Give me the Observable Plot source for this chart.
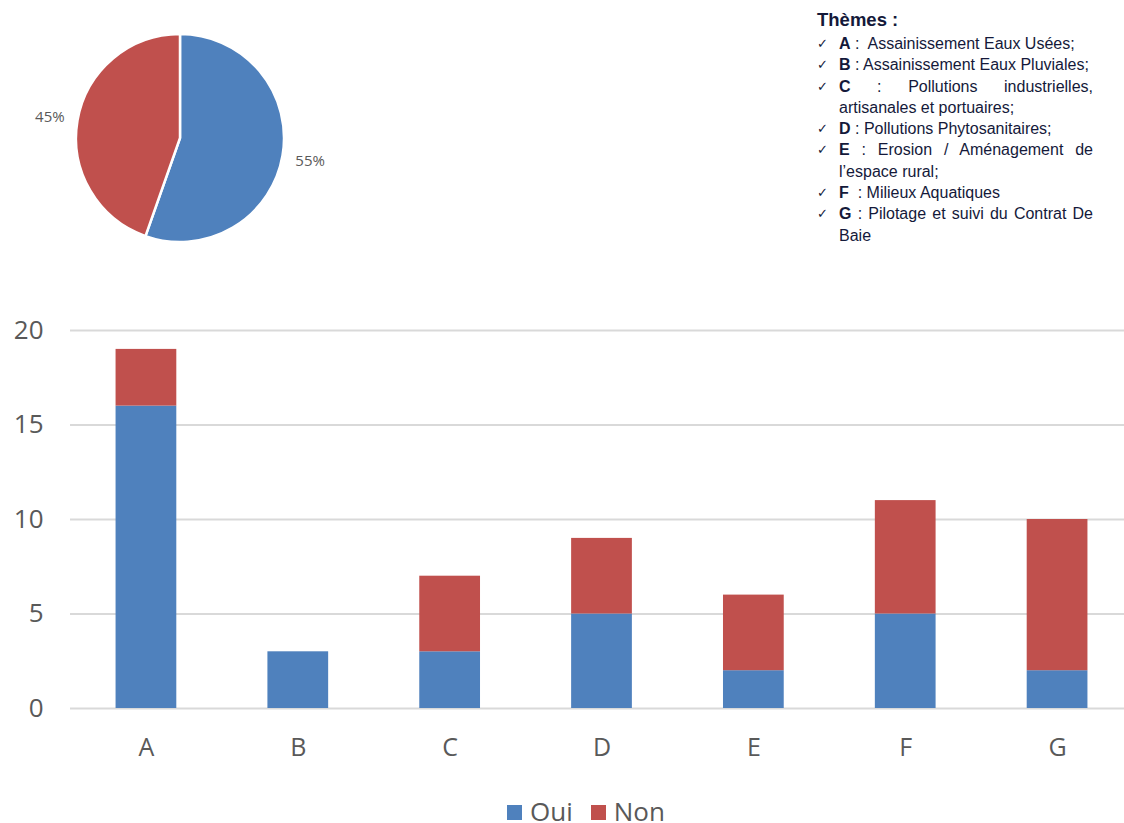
<!DOCTYPE html>
<html>
<head>
<meta charset="utf-8">
<script src="https://cdn.jsdelivr.net/npm/d3@7"></script>
<script src="https://cdn.jsdelivr.net/npm/@observablehq/plot@0.6"></script>
<style>
  html, body { margin: 0; padding: 0; background: #fff; }
  body { width: 1124px; height: 823px; position: relative; overflow: hidden; font-family: "Liberation Sans", Arial, sans-serif; }
  #pie { position: absolute; left: 0; top: 0; }
  #bars { position: absolute; left: 0; top: 310px; }
  #themes { position: absolute; left: 816px; top: 8px; width: 277px; color: #14193a; }
  #themes h3 { margin: 0 0 1px 1px; font-size: 18.5px; line-height: 24px; font-weight: bold; }
  #themes ul { list-style: none; margin: 0; padding: 0; }
  #themes li { position: relative; padding-left: 23px; font-size: 16px; line-height: 21.3px; text-align: justify; }
  #themes li::before { content: "\2713"; position: absolute; left: 1px; top: 0; font-size: 13px; font-family: "DejaVu Sans", sans-serif; }
  #legend { position: absolute; top: 799px; left: 507px; white-space: nowrap; font-size: 26px; line-height: 24px; color: #595959; font-family: "Open Sans", sans-serif; }
  #legend span.sw { display: inline-block; width: 15px; height: 15px; margin-right: 8px; vertical-align: 1px; }
  #legend span.item { margin-right: 18px; }
</style>
</head>
<body>
<div id="pie"></div>
<div id="themes"></div>
<div id="bars"></div>
<div id="legend"></div>
<script>
// ---- data ----
const categories = ["A", "B", "C", "D", "E", "F", "G"];
const series = ["Oui", "Non"];
const ouiValues = [16, 3, 3, 5, 2, 5, 2];
const nonValues = [3, 0, 4, 4, 4, 6, 8];
const seriesColors = ["#4f81bd", "#c0504d"];
const yTicks = [0, 5, 10, 15, 20];
const pieLabels = ["55%", "45%"];
const themeTitle = "Thèmes :";
const themeLetters = ["A", "B", "C", "D", "E", "F", "G"];
const themeSeparators = ["\u00a0:\u00a0 ", " : ", " : ", " : ", " : ", " \u00a0: ", " : "];
const themeTexts = [
  "Assainissement Eaux Usées;",
  "Assainissement Eaux Pluviales;",
  "Pollutions industrielles, artisanales et portuaires;",
  "Pollutions Phytosanitaires;",
  "Erosion / Aménagement de l’espace rural;",
  "Milieux Aquatiques",
  "Pilotage et suivi du Contrat De Baie"
];

// ---- long table for bars ----
const rows = [];
categories.forEach((c, i) => {
  rows.push({cat: c, serie: "Oui", value: ouiValues[i]});
  rows.push({cat: c, serie: "Non", value: nonValues[i]});
});
const pieData = series.map((s, i) => ({serie: s, value: d3.sum(i === 0 ? ouiValues : nonValues), label: pieLabels[i]}));

// ---- bar chart ----
const bars = Plot.plot({
  width: 1124,
  height: 460,
  marginTop: 20,
  marginBottom: 62,
  marginLeft: 70,
  marginRight: 0,
  style: {fontFamily: "Open Sans, sans-serif", background: "transparent"},
  x: {domain: categories, paddingInner: 0.6, paddingOuter: 0.3, range: [70, 1133], round: false, label: null},
  y: {domain: [0, 20], ticks: yTicks, label: null},
  color: {domain: series, range: seriesColors},
  marks: [
    Plot.gridY(yTicks, {stroke: "#d9d9d9", strokeOpacity: 1, strokeWidth: 2}),
    Plot.barY(rows, Plot.stackY({x: "cat", y: "value", fill: "serie", order: series})),
    Plot.axisX({tickSize: 0, tickPadding: 30, fontSize: 25, fill: "#595959", label: null}),
    Plot.axisY(yTicks, {tickSize: 0, tickPadding: 27, fontSize: 26, fill: "#595959", label: null})
  ]
});
document.getElementById("bars").appendChild(bars);

// ---- pie chart ----
const pieCx = 180, pieCy = 138, pieR = 104, labelR = 132;
const pie = Plot.plot({
  width: 360,
  height: 260,
  margin: 0,
  style: {fontFamily: "Open Sans, sans-serif", background: "transparent"},
  x: {axis: null, domain: [0, 1]},
  y: {axis: null, domain: [0, 1]},
  color: {domain: series, range: seriesColors},
  marks: [
    (index, scales, values, dimensions) => {
      const g = d3.create("svg:g").attr("transform", `translate(${pieCx},${pieCy})`);
      const arcs = d3.pie().sort(null).value(d => d.value)(pieData);
      const arc = d3.arc().innerRadius(0).outerRadius(pieR);
      const lab = d3.arc().innerRadius(labelR).outerRadius(labelR);
      g.selectAll("path").data(arcs).join("path")
        .attr("d", arc)
        .attr("fill", d => scales.color(d.data.serie))
        .attr("stroke", "#fff")
        .attr("stroke-width", 2.5)
        .attr("stroke-linejoin", "round");
      g.selectAll("text").data(arcs).join("text")
        .attr("transform", d => `translate(${lab.centroid(d)})`)
        .attr("text-anchor", "middle")
        .attr("dy", "0.4em")
        .attr("font-size", 15)
        .attr("fill", "#595959")
        .text(d => d.data.label);
      return g.node();
    }
  ]
});
document.getElementById("pie").appendChild(pie);

// ---- themes list ----
const themes = document.getElementById("themes");
const h = document.createElement("h3");
h.textContent = themeTitle;
themes.appendChild(h);
const ul = document.createElement("ul");
themeLetters.forEach((l, i) => {
  const li = document.createElement("li");
  const b = document.createElement("b");
  b.textContent = l;
  li.appendChild(b);
  li.appendChild(document.createTextNode(themeSeparators[i] + themeTexts[i]));
  ul.appendChild(li);
});
themes.appendChild(ul);

// ---- legend ----
const legend = document.getElementById("legend");
series.forEach((s, i) => {
  const item = document.createElement("span");
  item.className = "item";
  const sw = document.createElement("span");
  sw.className = "sw";
  sw.style.background = seriesColors[i];
  item.appendChild(sw);
  item.appendChild(document.createTextNode(s));
  legend.appendChild(item);
});
</script>
</body>
</html>
